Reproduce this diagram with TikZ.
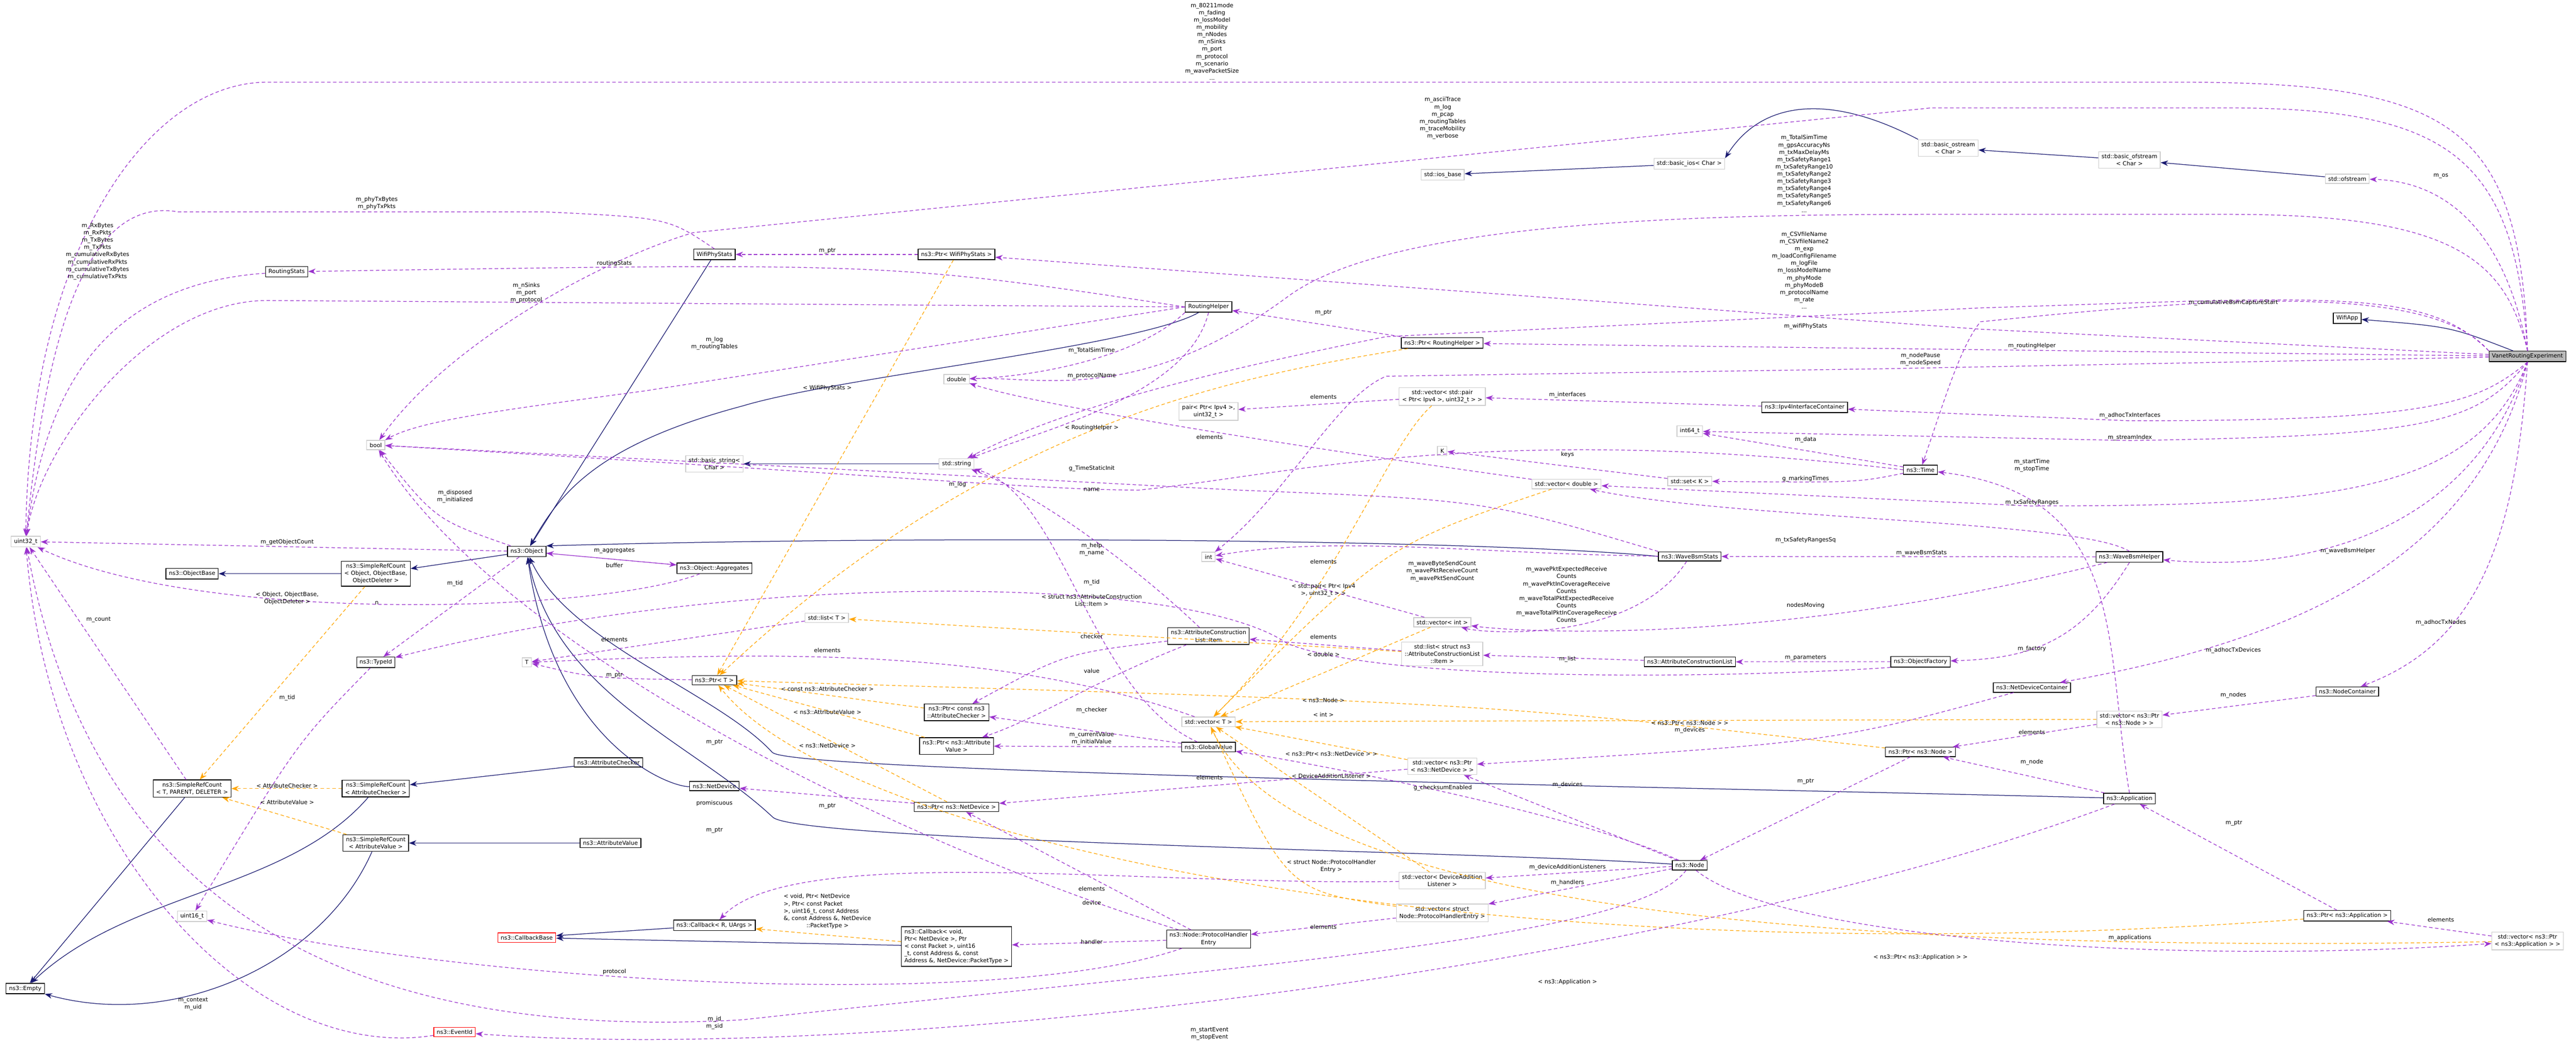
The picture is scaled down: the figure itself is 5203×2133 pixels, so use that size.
\documentclass[tikz,border=0pt]{standalone}
\usepackage{fontspec}
\setmainfont{DejaVu Sans}
\usetikzlibrary{arrows.meta}
\definecolor{navyblue}{HTML}{191970}
\definecolor{purp}{HTML}{9A32CD}
\definecolor{tmplorange}{HTML}{FFA500}
\newcommand{\dfont}{\fontsize{11.5}{14.7}\selectfont}
\tikzset{
  cls/.style={draw=black, line width=1.4pt, fill=white, inner xsep=6pt, inner ysep=5pt, align=center, font=\dfont},
  ext/.style={cls, draw=gray!40},
  bad/.style={cls, draw=red},
  root/.style={cls, fill=gray!55},
  inh/.style={draw=navyblue, line width=1.3pt, -{Stealth[length=15pt,width=11pt]}},
  use/.style={draw=purp, dash pattern=on 7pt off 5pt, line width=1.3pt, -{Stealth[length=15pt,width=11pt]}},
  tmpl/.style={use, draw=tmplorange},
  lbl/.style={font=\dfont, align=center, inner sep=1pt}
}
\begin{document}
\begin{tikzpicture}[x=1pt, y=-1pt]
\useasboundingbox (0,0) rectangle (5203,2133);
% classes
\node[root] (vre) at (5105,720) {VanetRoutingExperiment};
\node[cls] (wifiapp) at (4741,643) {WifiApp};
\node[ext] (ofstream) at (4741,361) {std::ofstream};
\node[ext] (basicofstream) at (4301,323) {std::basic\_ofstream\\< Char >};
\node[ext] (basicostream) at (3935,299) {std::basic\_ostream\\< Char >};
\node[ext] (basicios) at (3412,331) {std::basic\_ios< Char >};
\node[ext] (iosbase) at (2914,353) {std::ios\_base};
\node[cls] (wifiphystats) at (1443,514) {WifiPhyStats};
\node[cls] (ptrwifi) at (1932,514) {ns3::Ptr< WifiPhyStats >};
\node[cls] (routingstats) at (579,549) {RoutingStats};
\node[cls] (routinghelper) at (2441,620) {RoutingHelper};
\node[cls] (ptrrh) at (2913,693) {ns3::Ptr< RoutingHelper >};
\node[ext] (dbl) at (1932,766) {double};
\node[ext] (pairipv4) at (2441,831) {pair< Ptr< Ipv4 >,\\uint32\_t >};
\node[ext] (basicstring) at (1443,937) {std::basic\_string<\\Char >};
\node[ext] (stdstring) at (1932,937) {std::string};
\node[ext] (boolt) at (759,899) {bool};
\node[cls] (aggregates) at (1443,1148) {ns3::Object::Aggregates};
\node[ext] (uint32) at (52,1094) {uint32\_t};
\node[cls] (objbase) at (388,1159) {ns3::ObjectBase};
\node[cls] (srcobj) at (759,1159) {ns3::SimpleRefCount\\< Object, ObjectBase,\\ObjectDeleter >};
\node[cls] (object) at (1064,1114) {ns3::Object};
\node[cls] (typeid) at (759,1338) {ns3::TypeId};
\node[ext] (tT) at (1064,1338) {T};
\node[cls] (srcT) at (388,1593) {ns3::SimpleRefCount\\< T, PARENT, DELETER >};
\node[cls] (srcchk) at (759,1593) {ns3::SimpleRefCount\\< AttributeChecker >};
\node[cls] (srcval) at (759,1703) {ns3::SimpleRefCount\\< AttributeValue >};
\node[cls] (attrchk) at (1229,1540) {ns3::AttributeChecker};
\node[cls] (attrval) at (1233,1703) {ns3::AttributeValue};
\node[ext] (uint16) at (388,1851) {uint16\_t};
\node[bad] (cbbase) at (1064,1894) {ns3::CallbackBase};
\node[cls] (empty) at (51,1997) {ns3::Empty};
\node[bad] (eventid) at (918,2085) {ns3::EventId};
\node[ext] (listT) at (1670,1248) {std::list< T >};
\node[cls] (ptrT) at (1443,1374) {ns3::Ptr< T >};
\node[cls] (acitem) at (2441,1285) {ns3::AttributeConstruction\\List::Item};
\node[cls] (ptrchk) at (1932,1439) {ns3::Ptr< const ns3\\::AttributeChecker >};
\node[cls] (ptrval) at (1932,1507) {ns3::Ptr< ns3::Attribute\\Value >};
\node[ext] (vecT) at (2441,1458) {std::vector< T >};
\node[cls] (globalval) at (2441,1509) {ns3::GlobalValue};
\node[cls] (netdev) at (1443,1588) {ns3::NetDevice};
\node[cls] (ptrnetdev) at (1932,1630) {ns3::Ptr< ns3::NetDevice >};
\node[cls] (cbRU) at (1443,1869) {ns3::Callback< R, UArgs >};
\node[cls, align=left] (cbvoid) at (1932,1912) {ns3::Callback< void,\\ Ptr< NetDevice >, Ptr\\< const Packet >, uint16\\\_t, const Address \&, const\\ Address \&, NetDevice::PacketType >};
\node[cls] (phentry) at (2441,1897) {ns3::Node::ProtocolHandler\\Entry};
\node[ext] (vecpair) at (2913,801) {std::vector< std::pair\\< Ptr< Ipv4 >, uint32\_t > >};
\node[cls] (ipv4ic) at (3645,823) {ns3::Ipv4InterfaceContainer};
\node[ext] (int64) at (3413,871) {int64\_t};
\node[ext] (K) at (2913,911) {K};
\node[cls] (time) at (3879,949) {ns3::Time};
\node[ext] (setK) at (3413,972) {std::set< K >};
\node[ext] (vecdbl) at (3164,978) {std::vector< double >};
\node[cls] (wbstats) at (3413,1124) {ns3::WaveBsmStats};
\node[ext] (intt) at (2441,1125) {int};
\node[ext] (vecint) at (2913,1257) {std::vector< int >};
\node[ext] (listitem) at (2913,1321) {std::list< struct ns3\\::AttributeConstructionList\\::Item >};
\node[cls] (aclist) at (3413,1337) {ns3::AttributeConstructionList};
\node[cls] (objfactory) at (3879,1337) {ns3::ObjectFactory};
\node[ext] (vecnetdev) at (2913,1548) {std::vector< ns3::Ptr\\< ns3::NetDevice > >};
\node[cls] (ptrnode) at (3879,1519) {ns3::Ptr< ns3::Node >};
\node[cls] (node) at (3413,1748) {ns3::Node};
\node[ext] (vecdal) at (2913,1779) {std::vector< DeviceAddition\\Listener >};
\node[ext] (vecphe) at (2913,1844) {std::vector< struct\\Node::ProtocolHandlerEntry >};
\node[cls] (wbhelper) at (4301,1125) {ns3::WaveBsmHelper};
\node[cls] (netdevc) at (4104,1389) {ns3::NetDeviceContainer};
\node[cls] (nodec) at (4741,1397) {ns3::NodeContainer};
\node[ext] (vecptrnode) at (4301,1453) {std::vector< ns3::Ptr\\< ns3::Node > >};
\node[cls] (app) at (4301,1613) {ns3::Application};
\node[cls] (ptrapp) at (4741,1850) {ns3::Ptr< ns3::Application >};
\node[ext] (vecptrapp) at (5105,1901) {std::vector< ns3::Ptr\\< ns3::Application > >};

% inheritance
\draw[inh] (vre) .. controls (4950,660) .. (wifiapp);
\draw[inh] (ofstream) -- (basicofstream);
\draw[inh] (basicofstream) -- (basicostream);
\draw[inh] (basicostream.north west) .. controls (3700,190) and (3560,200) .. (basicios.north east);
\draw[inh] (basicios) -- (iosbase);
\draw[inh] (wifiphystats) -- (object);
\draw[inh] (routinghelper) .. controls (2300,700) and (1700,760) .. (1500,820) .. controls (1200,900) and (1130,1000) .. (object);
\draw[inh] (wbstats.west) .. controls (3000,1090) and (1900,1080) .. (object.north east);
\draw[inh] (netdev) .. controls (1350,1590) and (1120,1500) .. (object);
\draw[inh] (node) .. controls (3000,1720) and (1600,1700) .. (1560,1650) .. controls (1400,1500) and (1120,1400) .. (object);
\draw[inh] (app) .. controls (3400,1590) and (1600,1560) .. (1560,1520) .. controls (1450,1400) and (1150,1300) .. (object);
\draw[inh] (object) -- (srcobj);
\draw[inh] (srcobj) -- (objbase);
\draw[inh] (srcT) -- (empty);
\draw[inh] (srcchk) .. controls (580,1800) and (260,1800) .. (empty);
\draw[inh] (srcval) .. controls (650,1950) and (350,2080) .. (empty);
\draw[inh] (attrchk) -- (srcchk);
\draw[inh] (attrval) -- (srcval);
\draw[inh] (stdstring) -- (basicstring);
\draw[inh] (cbRU) -- (cbbase);
\draw[inh] (cbvoid) -- (cbbase);

% templates
\draw[tmpl] (srcobj) -- (srcT);
\draw[tmpl] (srcchk) -- (srcT);
\draw[tmpl] (srcval) -- (srcT);
\draw[tmpl] (ptrwifi) -- (ptrT);
\draw[tmpl] (ptrrh) .. controls (2500,760) and (2000,850) .. (ptrT);
\draw[tmpl] (ptrchk) -- (ptrT);
\draw[tmpl] (ptrval) -- (ptrT);
\draw[tmpl] (ptrnetdev) -- (ptrT);
\draw[tmpl] (ptrnode) .. controls (3000,1420) .. (ptrT);
\draw[tmpl] (ptrapp) .. controls (3000,1980) and (1700,1700) .. (ptrT);
\draw[tmpl] (listitem) -- (listT);
\draw[tmpl] (vecpair) .. controls (2800,900) and (2700,1200) .. (vecT);
\draw[tmpl] (vecdbl) .. controls (2800,1100) .. (vecT);
\draw[tmpl] (vecint) -- (vecT);
\draw[tmpl] (vecnetdev) -- (vecT);
\draw[tmpl] (vecdal) -- (vecT);
\draw[tmpl] (vecphe) .. controls (2600,1800) .. (vecT);
\draw[tmpl] (vecptrnode) -- (vecT);
\draw[tmpl] (vecptrapp) .. controls (3500,1930) and (2600,1800) .. (vecT);
\draw[tmpl] (cbvoid) -- (cbRU);

% members
\draw[use] (vre.north) .. controls (5090,250) and (4950,166) .. (4400,166) -- (540,166) .. controls (300,166) and (60,500) .. (uint32.north);
\draw[use] (vre.north) .. controls (5080,320) and (4950,218) .. (4500,218) -- (3900,218) -- (1400,470) .. controls (1200,530) and (900,700) .. (boolt);
\draw[use] (vre.north) .. controls (5060,520) and (4950,433) .. (4500,433) -- (3900,433) .. controls (3400,433) and (2800,450) .. (2600,600) .. controls (2300,820) and (2100,760) .. (dbl);
\draw[use] (vre.north west) .. controls (4900,580) and (4700,600) .. (4000,622) -- (2800,680) .. controls (2300,780) and (2100,850) .. (stdstring);
\draw[use] (vre.north) .. controls (5050,420) and (4900,365) .. (ofstream);
\draw[use] (vre.north west) .. controls (4900,560) and (4400,610) .. (4000,650) .. controls (3960,700) and (3930,800) .. (time);
\draw[use] (vre) -- (4000,665) -- (ptrwifi);
\draw[use] (vre) -- (ptrrh);
\draw[use] (vre) -- (3800,745) -- (2800,760) .. controls (2700,800) and (2600,1000) .. (intt);
\draw[use] (vre.south) .. controls (5000,820) and (4900,850) .. (4302,850) -- (ipv4ic);
\draw[use] (vre.south) .. controls (5000,860) and (4900,880) .. (4302,890) -- (int64);
\draw[use] (vre.south) .. controls (5000,1000) and (4700,1022) .. (4100,1022) -- (vecdbl);
\draw[use] (vre.south) .. controls (5000,1050) and (4700,1160) .. (wbhelper);
\draw[use] (vre.south) .. controls (5000,1150) and (4600,1300) .. (netdevc);
\draw[use] (vre.south) .. controls (5080,1100) and (5000,1300) .. (nodec);
\draw[use] (wifiphystats.north) .. controls (1350,440) .. (1100,428) -- (360,428) .. controls (200,400) and (100,600) .. (uint32);
\draw[use] (routinghelper.west) .. controls (1800,530) .. (routingstats);
\draw[use] (routingstats) .. controls (200,575) and (90,800) .. (uint32);
\draw[use] (routinghelper.west) -- (540,607) .. controls (300,607) and (80,900) .. (uint32);
\draw[use] (routinghelper.west) -- (1300,790) .. controls (1000,830) and (850,850) .. (boolt);
\draw[use] (routinghelper.south west) .. controls (2300,720) and (2100,760) .. (dbl);
\draw[use] (routinghelper.south) .. controls (2400,800) and (2100,870) .. (stdstring);
\draw[use] (ptrwifi) -- (wifiphystats);
\draw[use] (ptrrh) -- (routinghelper);
\draw[use] (vecpair) -- (pairipv4);
\draw[use] (ipv4ic) -- (vecpair);
\draw[use] (time) -- (int64);
\draw[use] (time) .. controls (3750,975) .. (setK);
\draw[use] (setK) -- (K);
\draw[use] (vecdbl) .. controls (2600,900) and (2100,820) .. (dbl);
\draw[use] (time.west) .. controls (3000,850) and (2600,960) .. (2300,990) .. controls (2100,990) and (1800,960) .. (boolt);
\draw[use] (wbstats.north west) .. controls (3000,1010) .. (2500,990) -- (boolt);
\draw[use] (wbstats) .. controls (3000,1120) and (2700,1080) .. (intt);
\draw[use] (wbstats) .. controls (3300,1300) and (3000,1280) .. (vecint);
\draw[use] (wbhelper) -- (wbstats);
\draw[use] (wbhelper.north) .. controls (4200,1050) and (3500,1050) .. (vecdbl);
\draw[use] (wbhelper) .. controls (3600,1300) and (3100,1280) .. (vecint);
\draw[use] (wbhelper.south) .. controls (4200,1300) and (4100,1330) .. (objfactory);
\draw[use] (vecint) -- (intt);
\draw[use] (objfactory) -- (aclist);
\draw[use] (objfactory.south west) .. controls (3500,1370) and (2800,1380) .. (2600,1300) .. controls (2400,1160) and (1500,1150) .. (typeid);
\draw[use] (aclist) -- (listitem);
\draw[use] (listitem) -- (acitem);
\draw[use] (acitem) .. controls (2300,1150) and (2100,1000) .. (stdstring);
\draw[use] (acitem) .. controls (2150,1320) .. (ptrchk);
\draw[use] (acitem) .. controls (2200,1380) and (2100,1450) .. (ptrval);
\draw[use] (globalval) .. controls (2200,1400) and (2150,1000) .. (stdstring);
\draw[use] (globalval) -- (ptrchk);
\draw[use] (globalval) -- (ptrval);
\draw[use] (object) -- (uint32);
\draw[use] (object) -- (aggregates);
\draw[use] (aggregates) -- (object);
\draw[use] (object) -- (typeid);
\draw[use] (object) .. controls (880,1050) .. (boolt);
\draw[use] (aggregates) .. controls (1200,1240) and (400,1260) .. (uint32);
\draw[use] (srcT) -- (uint32);
\draw[use] (typeid) .. controls (600,1500) .. (uint16);
\draw[use] (vecT) .. controls (2000,1300) and (1500,1320) .. (tT);
\draw[use] (listT) -- (tT);
\draw[use] (ptrT) .. controls (1200,1370) .. (tT);
\draw[use] (ptrnetdev) -- (netdev);
\draw[use] (vecnetdev) -- (ptrnetdev);
\draw[use] (node) -- (vecnetdev);
\draw[use] (node) -- (vecdal);
\draw[use] (node) -- (vecphe);
\draw[use] (node) .. controls (3200,1650) and (2700,1550) .. (globalval);
\draw[use] (node) .. controls (3300,1900) and (2500,1950) .. (1500,2060) .. controls (800,2100) and (200,1900) .. (uint32);
\draw[use] (node) .. controls (3600,1900) and (4400,1950) .. (vecptrapp);
\draw[use] (vecphe) -- (phentry);
\draw[use] (vecdal) .. controls (2300,1790) and (1600,1700) .. (cbRU);
\draw[use] (phentry) -- (ptrnetdev);
\draw[use] (phentry) -- (cbvoid);
\draw[use] (phentry) .. controls (2000,2050) and (900,1980) .. (uint16);
\draw[use] (phentry) .. controls (1800,1700) and (1000,1300) .. (boolt);
\draw[use] (ptrnode) -- (node);
\draw[use] (vecptrnode) -- (ptrnode);
\draw[use] (nodec) -- (vecptrnode);
\draw[use] (netdevc) .. controls (3700,1500) .. (vecnetdev);
\draw[use] (app) -- (ptrnode);
\draw[use] (app) .. controls (3400,1950) and (1800,2150) .. (eventid);
\draw[use] (app.north) .. controls (4250,1300) and (4300,1000) .. (time);
\draw[use] (eventid) .. controls (500,2150) and (100,1700) .. (uint32);
\draw[use] (ptrapp) -- (app);
\draw[use] (vecptrapp) -- (ptrapp);

% labels
\node[lbl, anchor=south] at (2448,163) {m\_80211mode\\m\_fading\\m\_lossModel\\m\_mobility\\m\_nNodes\\m\_nSinks\\m\_port\\m\_protocol\\m\_scenario\\m\_wavePacketSize\\...};
\node[lbl, anchor=north] at (2914,195) {m\_asciiTrace\\m\_log\\m\_pcap\\m\_routingTables\\m\_traceMobility\\m\_verbose};
\node[lbl, anchor=north] at (3644,272) {m\_TotalSimTime\\m\_gpsAccuracyNs\\m\_txMaxDelayMs\\m\_txSafetyRange1\\m\_txSafetyRange10\\m\_txSafetyRange2\\m\_txSafetyRange3\\m\_txSafetyRange4\\m\_txSafetyRange5\\m\_txSafetyRange6\\...};
\node[lbl, anchor=north] at (3644,467) {m\_CSVfileName\\m\_CSVfileName2\\m\_exp\\m\_loadConfigFilename\\m\_logFile\\m\_lossModelName\\m\_phyMode\\m\_phyModeB\\m\_protocolName\\m\_rate\\...};
\node[lbl] at (4930,356) {m\_os};
\node[lbl] at (4511,611) {m\_cumulativeBsmCaptureStart};
\node[lbl] at (3647,659) {m\_wifiPhyStats};
\node[lbl] at (4104,699) {m\_routingHelper};
\node[lbl] at (3879,726) {m\_nodePause\\m\_nodeSpeed};
\node[lbl] at (4302,839) {m\_adhocTxInterfaces};
\node[lbl] at (4302,884) {m\_streamIndex};
\node[lbl] at (4104,940) {m\_startTime\\m\_stopTime};
\node[lbl] at (4104,1015) {m\_txSafetyRanges};
\node[lbl] at (4742,1113) {m\_waveBsmHelper};
\node[lbl] at (4930,1258) {m\_adhocTxNodes};
\node[lbl] at (4511,1314) {m\_adhocTxDevices};
\node[lbl] at (4104,1311) {m\_factory};
\node[lbl] at (4511,1404) {m\_nodes};
\node[lbl] at (4104,1479) {elements};
\node[lbl] at (4104,1540) {m\_node};
\node[lbl] at (4512,1663) {m\_ptr};
\node[lbl] at (4930,1858) {elements};
\node[lbl] at (4302,1894) {m\_applications};
\node[lbl] at (761,411) {m\_phyTxBytes\\m\_phyTxPkts};
\node[lbl] at (197,508) {m\_RxBytes\\m\_RxPkts\\m\_TxBytes\\m\_TxPkts\\m\_cumulativeRxBytes\\m\_cumulativeRxPkts\\m\_cumulativeTxBytes\\m\_cumulativeTxPkts};
\node[lbl] at (1241,532) {routingStats};
\node[lbl] at (1063,592) {m\_nSinks\\m\_port\\m\_protocol};
\node[lbl] at (919,1003) {m\_disposed\\m\_initialized};
\node[lbl] at (1671,507) {m\_ptr};
\node[lbl] at (1443,694) {m\_log\\m\_routingTables};
\node[lbl] at (1671,784) {< WifiPhyStats >};
\node[lbl] at (2205,708) {m\_TotalSimTime};
\node[lbl] at (2205,759) {m\_protocolName};
\node[lbl] at (2205,864) {< RoutingHelper >};
\node[lbl] at (2443,883) {elements};
\node[lbl] at (2205,947) {g\_TimeStaticInit};
\node[lbl] at (1934,979) {m\_log};
\node[lbl] at (2205,989) {name};
\node[lbl] at (2205,1110) {m\_help\\m\_name};
\node[lbl] at (2205,1176) {m\_tid};
\node[lbl] at (2673,632) {m\_ptr};
\node[lbl] at (2673,802) {elements};
\node[lbl] at (3166,798) {m\_interfaces};
\node[lbl] at (3647,888) {m\_data};
\node[lbl] at (3166,918) {keys};
\node[lbl] at (3647,967) {g\_markingTimes};
\node[lbl] at (3647,1091) {m\_txSafetyRangesSq};
\node[lbl] at (3881,1117) {m\_waveBsmStats};
\node[lbl] at (2913,1154) {m\_waveByteSendCount\\m\_wavePktReceiveCount\\m\_wavePktSendCount};
\node[lbl] at (3164,1201) {m\_wavePktExpectedReceive\\Counts\\m\_wavePktInCoverageReceive\\Counts\\m\_waveTotalPktExpectedReceive\\Counts\\m\_waveTotalPktInCoverageReceive\\Counts};
\node[lbl] at (2673,1135) {elements};
\node[lbl] at (2673,1192) {< std::pair< Ptr< Ipv4\\>, uint32\_t > >};
\node[lbl] at (3647,1223) {nodesMoving};
\node[lbl] at (3166,1332) {m\_list};
\node[lbl] at (3647,1329) {m\_parameters};
\node[lbl] at (2673,1287) {elements};
\node[lbl] at (2673,1322) {< double >};
\node[lbl] at (2673,1415) {< ns3::Node >};
\node[lbl] at (2673,1444) {< int >};
\node[lbl] at (3413,1460) {< ns3::Ptr< ns3::Node > >};
\node[lbl] at (3413,1475) {m\_devices};
\node[lbl] at (2689,1523) {< ns3::Ptr< ns3::NetDevice > >};
\node[lbl] at (2689,1567) {< DeviceAdditionListener >};
\node[lbl] at (2914,1592) {g\_checksumEnabled};
\node[lbl] at (3166,1585) {m\_devices};
\node[lbl] at (3647,1579) {m\_ptr};
\node[lbl] at (2689,1750) {< struct Node::ProtocolHandler\\Entry >};
\node[lbl] at (3166,1752) {m\_deviceAdditionListeners};
\node[lbl] at (3166,1783) {m\_handlers};
\node[lbl] at (2673,1872) {elements};
\node[lbl] at (3879,1934) {< ns3::Ptr< ns3::Application > >};
\node[lbl] at (3166,1984) {< ns3::Application >};
\node[lbl] at (580,1095) {m\_getObjectCount};
\node[lbl] at (1241,1112) {m\_aggregates};
\node[lbl] at (1241,1142) {buffer};
\node[lbl] at (919,1179) {m\_tid};
\node[lbl] at (580,1209) {< Object, ObjectBase,\\ObjectDeleter >};
\node[lbl] at (761,1218) {n};
\node[lbl] at (199,1252) {m\_count};
\node[lbl] at (1241,1292) {elements};
\node[lbl] at (1241,1364) {m\_ptr};
\node[lbl] at (580,1410) {m\_tid};
\node[lbl] at (580,1587) {< AttributeChecker >};
\node[lbl] at (580,1621) {< AttributeValue >};
\node[lbl] at (1241,1963) {protocol};
\node[lbl] at (390,2028) {m\_context\\m\_uid};
\node[lbl] at (2205,1213) {< struct ns3::AttributeConstruction\\List::Item >};
\node[lbl] at (2205,1286) {checker};
\node[lbl] at (1671,1314) {elements};
\node[lbl] at (2205,1355) {value};
\node[lbl] at (1671,1392) {< const ns3::AttributeChecker >};
\node[lbl] at (1671,1438) {< ns3::AttributeValue >};
\node[lbl] at (2205,1435) {m\_checker};
\node[lbl] at (2205,1492) {m\_currentValue\\m\_initialValue};
\node[lbl] at (1443,1499) {m\_ptr};
\node[lbl] at (1671,1506) {< ns3::NetDevice >};
\node[lbl] at (2443,1571) {elements};
\node[lbl] at (1443,1623) {promiscuous};
\node[lbl] at (1671,1628) {m\_ptr};
\node[lbl] at (1443,1677) {m\_ptr};
\node[lbl] at (2205,1795) {elements};
\node[lbl] at (2205,1824) {device};
\node[lbl, align=left] at (1671,1841) {< void, Ptr< NetDevice\\>, Ptr< const Packet\\>, uint16\_t, const Address\\\&, const Address \&, NetDevice\\\hspace*{4em}::PacketType >};
\node[lbl] at (2205,1903) {handler};
\node[lbl] at (1443,2066) {m\_id\\m\_sid};
\node[lbl] at (2443,2088) {m\_startEvent\\m\_stopEvent};
\end{tikzpicture}
\end{document}
